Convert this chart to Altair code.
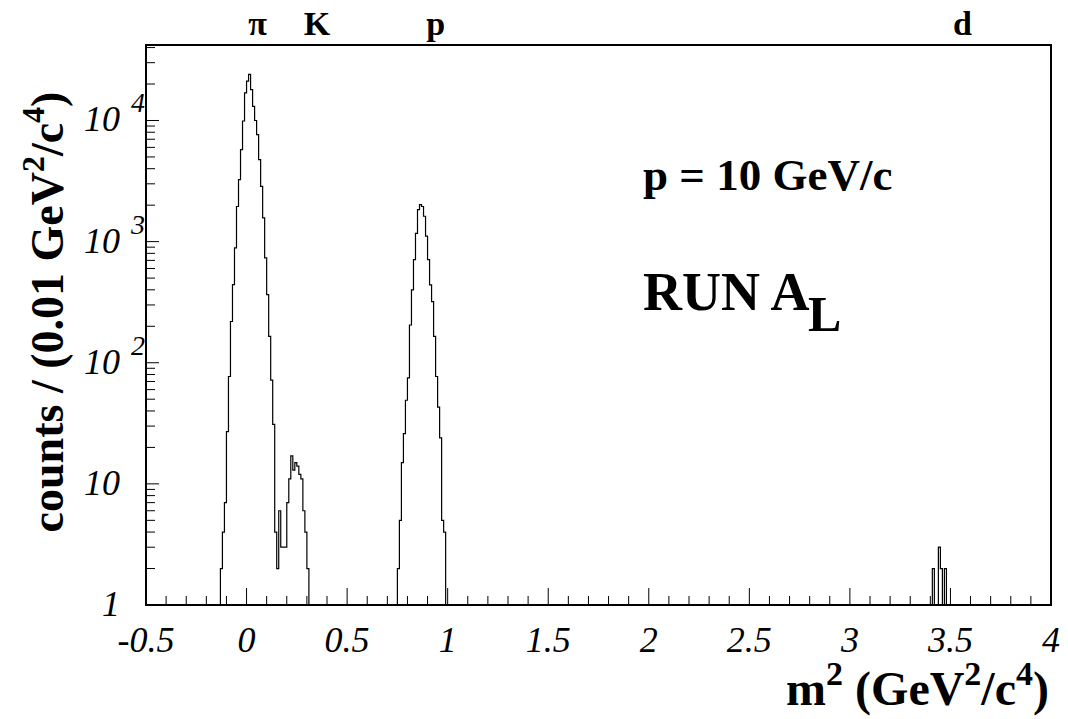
import altair as alt
import pandas as pd

# ---------------- data ----------------
BIN_WIDTH = 0.01
X_MIN, X_MAX = -0.5, 4.0
Y_MIN, Y_MAX = 1, 42000

# pion + kaon region, first bin starts at m2 = -0.13
pik_first_edge = -0.13
pik_counts = [2, 4, 7, 27, 77, 219, 441, 887, 1950, 3250, 5750, 9900, 16900,
              21100, 24000, 18000, 13100, 10000, 7650, 4760, 2860, 1570, 733,
              365, 165, 72, 31, 4, 2, 6, 3, 3, 3, 7, 11, 17, 13, 15, 14, 12,
              11, 6, 4, 2]
# proton region, first bin starts at m2 = 0.75
p_first_edge = 0.75
p_counts = [2, 5, 15, 26, 49, 75, 205, 400, 710, 1170, 1840, 2020, 1950, 1620,
            1110, 710, 440, 320, 165, 77, 43, 24, 5, 4]
# deuteron region, first bin starts at m2 = 3.41
d_first_edge = 3.41
d_counts = [2, 0, 0, 3, 2, 0, 2]

# particle labels along the top
part_labels = ["π", "K", "p", "d"]
part_x = [0.055, 0.35, 0.94, 3.56]

# axis labels
x_label_values = [-0.5, 0, 0.5, 1, 1.5, 2, 2.5, 3, 3.5, 4]
x_label_text = ["-0.5", "0", "0.5", "1", "1.5", "2", "2.5", "3", "3.5", "4"]
y_label_values = [1, 10, 100, 1000, 10000]
y_label_base = ["1", "10", "10", "10", "10"]
y_label_sup = ["", "", "2", "3", "4"]

# ---------------- build histogram outline ----------------
n_bins = round((X_MAX - X_MIN) / BIN_WIDTH)
counts = [0] * n_bins
for start, vals in [(pik_first_edge, pik_counts), (p_first_edge, p_counts),
                    (d_first_edge, d_counts)]:
    i0 = round((start - X_MIN) / BIN_WIDTH)
    for k, v in enumerate(vals):
        counts[i0 + k] = v
edges = [round(X_MIN + i * BIN_WIDTH, 4) for i in range(n_bins + 1)]
hist = pd.DataFrame({"x": edges, "c": [max(c, Y_MIN) for c in counts] + [Y_MIN]})

W, H = 905, 560
FONT = "Liberation Serif"

xs = alt.Scale(domain=[X_MIN, X_MAX], nice=False, zero=False)
ys = alt.Scale(type="log", domain=[Y_MIN, Y_MAX], nice=False)

line = alt.Chart(hist).mark_line(
    interpolate="step-after", color="black", strokeWidth=1.2
).encode(
    x=alt.X("x:Q", scale=xs, axis=None),
    y=alt.Y("c:Q", scale=ys, axis=None),
)

# ticks drawn inside the frame (ROOT style)
x_major = x_label_values
x_minor = [round(v / 10, 2) for v in range(-5, 41) if v % 5 != 0]
y_minor = [m * d for d in [1, 10, 100, 1000] for m in range(2, 10)] + [20000, 30000, 40000]

xt_major = alt.Chart(pd.DataFrame({"x": x_major})).mark_rule(color="black", strokeWidth=1).encode(
    x=alt.X("x:Q", scale=xs, axis=None), y=alt.value(H), y2=alt.value(H - 17))
xt_minor = alt.Chart(pd.DataFrame({"x": x_minor})).mark_rule(color="black", strokeWidth=1).encode(
    x=alt.X("x:Q", scale=xs, axis=None), y=alt.value(H), y2=alt.value(H - 9))
yt_major = alt.Chart(pd.DataFrame({"y": y_label_values})).mark_rule(color="black", strokeWidth=1).encode(
    y=alt.Y("y:Q", scale=ys, axis=None), x=alt.value(0), x2=alt.value(13))
yt_minor = alt.Chart(pd.DataFrame({"y": y_minor})).mark_rule(color="black", strokeWidth=1).encode(
    y=alt.Y("y:Q", scale=ys, axis=None), x=alt.value(0), x2=alt.value(9))

xlab = alt.Chart(pd.DataFrame({"x": x_label_values, "t": x_label_text})).mark_text(
    align="center", baseline="middle", font=FONT, fontStyle="italic", fontSize=36, color="black"
).encode(x=alt.X("x:Q", scale=xs, axis=None), y=alt.value(H + 36), text="t:N")

ylab_df = pd.DataFrame({"y": y_label_values, "base": y_label_base, "sup": y_label_sup})
ylab = alt.Chart(ylab_df).mark_text(
    align="right", baseline="middle", font=FONT, fontStyle="italic", fontSize=36, color="black"
).encode(y=alt.Y("y:Q", scale=ys, axis=None), x=alt.value(-26), text="base:N")
ysup = alt.Chart(ylab_df).transform_filter("datum.sup != ''").mark_text(
    align="left", baseline="middle", font=FONT, fontStyle="italic", fontSize=28, color="black", dy=-16
).encode(y=alt.Y("y:Q", scale=ys, axis=None), x=alt.value(-15), text="sup:N")

parts = alt.Chart(pd.DataFrame({"x": part_x, "t": part_labels})).mark_text(
    align="center", baseline="middle", font=FONT, fontWeight="bold", fontSize=34, color="black"
).encode(x=alt.X("x:Q", scale=xs, axis=None), y=alt.value(-20), text="t:N")


def label(text, x, y, size, align="left", angle=None, baseline="alphabetic"):
    kw = dict(align=align, baseline=baseline, font=FONT, fontWeight="bold",
              fontSize=size, color="black")
    if angle is not None:
        kw["angle"] = angle
    return alt.Chart(pd.DataFrame({"t": [text]})).mark_text(**kw).encode(
        text="t:N", x=alt.value(x), y=alt.value(y))


# Times-Bold advance widths (em) used to place superscripts
ADV = {"m": 0.833, " ": 0.25, "(": 0.333, ")": 0.333, "G": 0.778, "e": 0.444,
       "V": 0.722, "/": 0.278, "c": 0.444, "o": 0.5, "u": 0.556, "n": 0.556,
       "t": 0.333, "s": 0.389, "0": 0.5, ".": 0.25, "1": 0.5, "2": 0.5, "4": 0.5}


def width(s, size):
    return sum(ADV[ch] for ch in s) * size


def composed(pieces, start, base, size, sup_size, sup_shift, vertical=False):
    """pieces: list of (text, is_sup). Horizontal: start=x, base=baseline y.
    Vertical (rotated 270): start=y (bottom), base=baseline x.
    Leading spaces are turned into an advance (SVG would drop them)."""
    layers = []
    pos = start
    for text, sup in pieces:
        fs = sup_size if sup else size
        stripped = text.lstrip(" ")
        lead = width(text[: len(text) - len(stripped)], fs)
        pos = pos - lead if vertical else pos + lead
        if vertical:
            layers.append(label(stripped, base - (sup_shift if sup else 0), pos, fs, angle=270))
            pos -= width(stripped, fs)
        else:
            layers.append(label(stripped, pos, base - (sup_shift if sup else 0), fs))
            pos += width(stripped, fs)
    return layers


x_title_pieces = [("m", False), ("2", True), (" (GeV", False), ("2", True),
                  ("/c", False), ("4", True), (")", False)]
XT_F, XT_S = 48, 34
xt_total = sum(width(t, XT_S if s else XT_F) for t, s in x_title_pieces)
x_title = composed(x_title_pieces, W - 2 - xt_total, 660, XT_F, XT_S, 20)

y_title_pieces = [("counts / (0.01 GeV", False), ("2", True), ("/c", False),
                  ("4", True), (")", False)]
YT_F, YT_S = 46, 32
yt_total = sum(width(t, YT_S if s else YT_F) for t, s in y_title_pieces)
y_title = composed(y_title_pieces, 267 + yt_total / 2, -83, YT_F, YT_S, 19, vertical=True)

t_mom = label("p = 10 GeV/c", 497, 145, 45)
t_run = label("RUN A", 497, 265, 54)
t_sub = label("L", 662, 286, 50)

chart = alt.layer(
    line, xt_major, xt_minor, yt_major, yt_minor, xlab, ylab, ysup, parts,
    t_mom, t_run, t_sub, *x_title, *y_title
).properties(
    width=W, height=H,
    autosize=alt.AutoSizeParams(type="none"),
    padding={"left": 146, "top": 45, "right": 17, "bottom": 114},
    background="white",
).configure_view(stroke="black", strokeWidth=2)

chart.save("out.html", embed_options={"renderer": "svg", "actions": False})
